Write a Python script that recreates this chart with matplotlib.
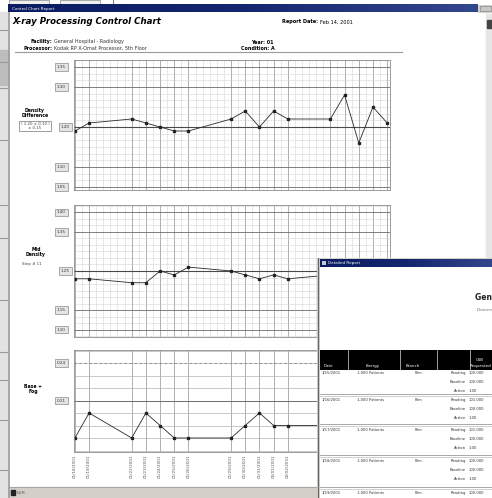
import numpy as np
import pandas as pd
import matplotlib
matplotlib.use('Agg')
import matplotlib.pyplot as plt
import matplotlib.dates as mdates
import matplotlib.transforms as mtransforms
from matplotlib.colors import LinearSegmentedColormap
from matplotlib.patches import Rectangle
from matplotlib.ticker import MultipleLocator

W, H = 492, 498

# test days of the control chart
test_dates = ['2001-01-18', '2001-01-19', '2001-01-22', '2001-01-23', '2001-01-24',
              '2001-01-25', '2001-01-26', '2001-01-29', '2001-01-30', '2001-01-31',
              '2001-02-01', '2001-02-02', '2001-02-05', '2001-02-06', '2001-02-07',
              '2001-02-08', '2001-02-09']
date_labels = ['01/18/2001', '01/19/2001', '01/22/2001', '01/23/2001', '01/24/2001',
               '01/25/2001', '01/26/2001', '01/29/2001', '01/30/2001', '01/31/2001',
               '02/01/2001', '02/02/2001', '02/05/2001', '02/06/2001', '02/07/2001',
               '02/08/2001', '02/09/2001']

density_diff = [1.19, 1.21, 1.22, 1.21, 1.20, 1.19, 1.19, 1.22, 1.24, 1.20,
                1.24, 1.22, 1.22, 1.28, 1.16, 1.25, 1.21]
mid_density = [1.23, 1.23, 1.22, 1.22, 1.25, 1.24, 1.26, 1.25, 1.24, 1.23,
               1.24, 1.23, 1.24, 1.25, 1.23, 1.24, 1.24]
base_fog = [0.18, 0.20, 0.18, 0.20, 0.19, 0.18, 0.18, 0.18, 0.19, 0.20,
            0.19, 0.19, 0.19, 0.20, 0.19, 0.19, 0.18]

dd_center = 1.20
dd_limits = [1.05, 1.10, 1.30, 1.35]
md_center = 1.25
md_limits = [1.10, 1.15, 1.35, 1.40]
bf_limits = [0.21, 0.24]

# detail report window rows
rep_dates = ['1/15/2001', '1/16/2001', '1/17/2001', '1/18/2001', '1/19/2001']
rep_energy = ['1,000 Patients'] * 5
rep_branch = ['Film'] * 5
rep_kinds = ['Reading', 'Baseline', 'Action']
rep_values = [['100.000', '100.000', '1.00'],
              ['101.000', '100.000', '1.00'],
              ['101.000', '100.000', '1.00'],
              ['100.000', '100.000', '1.00'],
              ['100.000', '100.000', '1.00']]
rep_cols = ['Date', 'Energy', 'Branch', '', 'CSB\nRequested']

x = mdates.date2num(pd.to_datetime(test_dates))

fig = plt.figure(figsize=(W / 100, H / 100), dpi=100)


def px(x0, y0, x1, y1):
  return [x0 / W, 1 - y1 / H, (x1 - x0) / W, (y1 - y0) / H]


def ftext(xp, yp, s, **kw):
  fig.text(xp / W, 1 - yp / H, s, **kw)


navy = LinearSegmentedColormap.from_list('tb', ['#0c1c62', '#15266e', '#33478c'])

# background: desktop, window frames, title bars
bg = fig.add_axes([0, 0, 1, 1])
bg.set_zorder(0)
bg.axis('off')
bg.add_patch(Rectangle((0, 0), W, H, color='white'))
bg.add_patch(Rectangle((0, 12), 8, H, color='#e2e2e2'))
for yy in [30, 62, 88, 140, 205, 238, 300, 352, 380, 420, 470]:
  bg.plot([0, 7], [yy, yy], color='#9a9a9a', lw=0.8)
bg.add_patch(Rectangle((0, 50), 8, 35, color='#bdbdbd'))
bg.add_patch(Rectangle((9, 0), 40, 4, fc='#efefef', ec='#999999', lw=0.6))
bg.add_patch(Rectangle((60, 0), 40, 4, fc='#efefef', ec='#999999', lw=0.6))
bg.plot([113, 113], [0, 5], color='#888888', lw=0.8)
bg.imshow(np.linspace(0, 1, 200).reshape(1, -1), cmap=navy, aspect='auto',
          extent=[8, 478, 12.5, 4.5], zorder=3)
bg.add_patch(Rectangle((478, 4.5), 14, 8, fc='#d4d0c8', ec='none', zorder=3))
bg.add_patch(Rectangle((480, 6), 11, 5, fc='#c8c8c8', ec='#888888', lw=0.5, zorder=4))
bg.text(12, 8.5, 'Control Chart Report', color='white', fontsize=3, va='center',
        zorder=5)
bg.plot([8.5, 8.5], [12, H], color='#9a9a9a', lw=1.2)
bg.add_patch(Rectangle((486, 14), 6, 244, color='#e6e6e6'))
bg.add_patch(Rectangle((487, 20), 5, 8, color='#444444'))
bg.add_patch(Rectangle((9, 487), 310, 11, color='#d4d0c8'))
bg.plot([9, 319], [487, 487], color='#a0a0a0', lw=0.6)
bg.add_patch(Rectangle((11, 490), 4, 5, color='#222222'))
bg.text(17, 492.5, 'NUM', fontsize=2.6, color='#555555', va='center')
bg.plot([15, 402], [52, 52], color='#9a9a9a', lw=0.8)
bg.set_xlim(0, W)
bg.set_ylim(H, 0)

# report header
ftext(12, 22, 'X-ray Processing Control Chart', fontsize=6.2, weight='bold',
      style='italic', va='center')
ftext(282, 22, 'Report Date:', fontsize=3.6, weight='bold', va='center')
ftext(320, 22, 'Feb 14, 2001', fontsize=3.6, va='center')
ftext(52, 42, 'Facility:', fontsize=3.5, weight='bold', va='center', ha='right')
ftext(54, 42, 'General Hospital - Radiology', fontsize=3.5, va='center', color='#333333')
ftext(52, 48, 'Processor:', fontsize=3.5, weight='bold', va='center', ha='right')
ftext(54, 48, 'Kodak RP X-Omat Processor, 5th Floor', fontsize=3.5, va='center',
      color='#333333')
ftext(262, 42, 'Year: 01', fontsize=3.5, weight='bold', va='center', ha='center')
ftext(258, 48, 'Condition: A', fontsize=3.5, weight='bold', va='center', ha='center')

# left side labels
ftext(35, 113, 'Density\nDifference', fontsize=3.3, weight='bold', ha='center',
      va='center', linespacing=1.1)
ftext(35, 126, '( 1.20 ± 0.10 )\n± 0.15', fontsize=2.8, ha='center', va='center',
      color='#444444', linespacing=1.0,
      bbox=dict(boxstyle='square,pad=0.3', fc='white', ec='#777777', lw=0.5))
ftext(36, 252, 'Mid\nDensity', fontsize=3.3, weight='bold', ha='center', va='center',
      linespacing=1.1)
ftext(32, 264, 'Step # 11', fontsize=2.8, ha='center', va='center', color='#444444')
ftext(33, 389, 'Base +\nFog', fontsize=3.3, weight='bold', ha='center', va='center',
      linespacing=1.1)


def limit_box(ax, val, label, dx):
  tr = mtransforms.offset_copy(ax.get_yaxis_transform(), fig=fig, x=dx, y=0,
                               units='dots')
  ax.text(0, val, label, transform=tr, fontsize=3.0, ha='center', va='center',
          color='#333333', clip_on=False,
          bbox=dict(boxstyle='square,pad=0.45', fc='#e4e4e4', ec='#8a8a8a', lw=0.5))


def control_axes(rect, ylim, ystep):
  ax = fig.add_axes(px(*rect))
  ax.set_zorder(1)
  ax.set_xlim(x[0] - 0.1, x[-1] + 0.2)
  ax.set_ylim(*ylim)
  ax.set_xticks(x)
  ax.set_xticklabels([])
  ax.set_yticks([])
  ax.yaxis.set_minor_locator(MultipleLocator(ystep))
  ax.tick_params(which='both', length=0)
  for s in ax.spines.values():
    s.set_color('#8a8a8a')
    s.set_linewidth(0.6)
  ax.grid(which='major', axis='x', color='#8f8f8f', lw=0.5)
  return ax


def density_chart(rect, values, center, limits, ystep, ylim):
  ax = control_axes(rect, ylim, ystep)
  ax.xaxis.set_minor_locator(MultipleLocator(0.5))
  ax.grid(which='minor', color='#c4c4c4', lw=0.4, linestyle=(0, (2, 1)))
  for v in limits:
    ax.axhline(v, color='#6e6e6e', lw=0.6)
    limit_box(ax, v, '%.2f' % v, -12)
  ax.axhline(center, color='#4a4a4a', lw=0.8)
  limit_box(ax, center, '%.2f' % center, -8)
  ax.plot(x, values, color='#2a2a2a', lw=0.6, marker='s', ms=2.1,
          mfc='#222222', mec='#222222')
  return ax


density_chart((73.5, 60, 390, 190), density_diff, dd_center, dd_limits, 1 / 60,
              (1.0425, 1.3675))
density_chart((73.5, 205, 390, 337), mid_density, md_center, md_limits, 1 / 60,
              (1.0808, 1.4192))

ax3 = control_axes((73.5, 350, 390, 452), (0.1688, 0.2504), 0.01)
ax3.grid(which='minor', axis='y', color='#b4b4b4', lw=0.5)
ax3.axhline(bf_limits[0], color='#6e6e6e', lw=0.7)
ax3.axhline(bf_limits[1], color='#8a8a8a', lw=0.6, linestyle=(0, (3, 3)))
for v in bf_limits:
  limit_box(ax3, v, '%.2f' % v, -12)
ax3.plot(x, base_fog, color='#2a2a2a', lw=0.6, marker='s', ms=2.1,
         mfc='#222222', mec='#222222')
ax3.set_xticklabels(date_labels, rotation=90, fontsize=3.0, color='#555555')
ax3.tick_params(axis='x', pad=2)
# the last week's dates sit behind the report window
for lbl in ax3.get_xticklabels()[12:]:
  lbl.set_visible(False)

# detail report window on top
ov = fig.add_axes(px(317, 258, 492, 498))
ov.set_zorder(5)
ov.axis('off')
ov.add_patch(Rectangle((0, 0), 175, 240, fc='white', ec='none'))
ov.add_patch(Rectangle((0, 0), 3, 240, fc='#d4d0c8', ec='none'))
ov.plot([0.5, 0.5], [0, 240], color='#666666', lw=0.8)
ov.add_patch(Rectangle((0, 0), 175, 1, fc='#d4d0c8', ec='none'))
ov.imshow(np.linspace(0, 1, 200).reshape(1, -1), cmap=navy, aspect='auto',
          extent=[3, 175, 9, 1], zorder=3)
ov.add_patch(Rectangle((5, 2.5), 4, 4, fc='#c8c8c8', ec='none', zorder=4))
ov.text(11, 5, 'Detailed Report', color='white', fontsize=3, va='center', zorder=5)
ov.text(158, 39, 'General Hospital', fontsize=5.5, weight='bold', va='center',
        color='#222222', clip_on=True)
ov.text(160, 52, 'Dosimetry', fontsize=3.2, va='center', color='#777777', clip_on=True)
ov.add_patch(Rectangle((3, 92), 172, 20, fc='black', ec='none'))
col_x = [11, 56, 96, 137, 163]
for cx, name in zip(col_x, rep_cols):
  ov.text(cx, 110, name, color='white', fontsize=2.9, ha='center', va='bottom',
          linespacing=1.6)
for sx in [31, 83, 120, 153]:
  ov.plot([sx, sx], [92, 112], color='#dddddd', lw=0.5)
row_top = [112, 139, 169, 200, 232]
for i, rt in enumerate(row_top):
  ov.text(5, rt + 3, rep_dates[i], fontsize=2.7, va='center', color='#333333')
  ov.text(40, rt + 3, rep_energy[i], fontsize=2.7, va='center', color='#333333')
  ov.text(98, rt + 3, rep_branch[i], fontsize=2.7, va='center', color='#333333')
  for j, kind in enumerate(rep_kinds):
    ov.text(149, rt + 3 + 9 * j, kind, fontsize=2.7, va='center', ha='right',
            color='#333333')
    ov.text(152, rt + 3 + 9 * j, rep_values[i][j], fontsize=2.7, va='center',
            color='#333333', clip_on=True)
  if i < len(row_top) - 1:
    ov.plot([3, 175], [row_top[i + 1] - 3, row_top[i + 1] - 3], color='#9a9a9a', lw=0.6)
    ov.plot([3, 175], [row_top[i + 1] - 1.5, row_top[i + 1] - 1.5], color='#c8c8c8', lw=0.6)
ov.set_xlim(0, 175)
ov.set_ylim(240, 0)

fig.savefig('out.png', dpi=100)
